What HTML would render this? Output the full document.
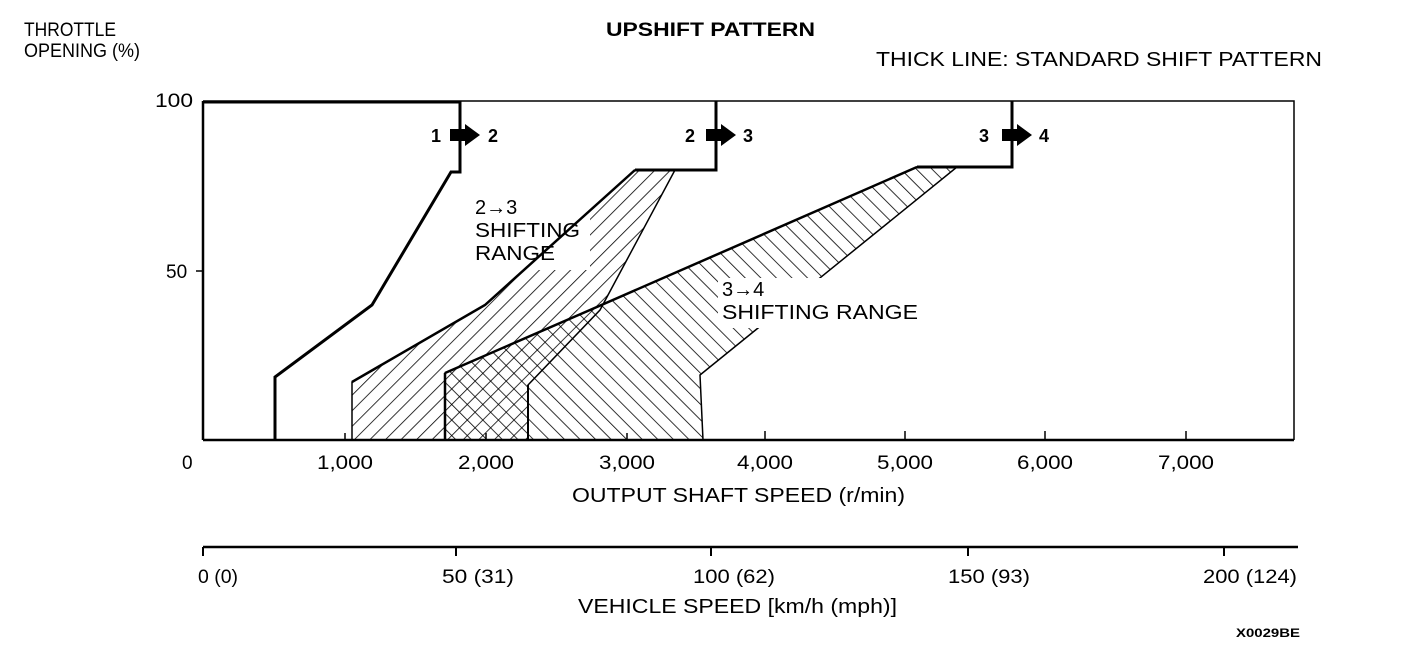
<!DOCTYPE html>
<html><head><meta charset="utf-8"><style>
html,body{margin:0;padding:0;background:#fff;}
svg{display:block;}
text{font-family:"Liberation Sans",Arial,sans-serif;fill:#000;}
</style></head><body>
<svg width="1408" height="648" viewBox="0 0 1408 648" xmlns="http://www.w3.org/2000/svg">
<defs>
<pattern id="fw" patternUnits="userSpaceOnUse" width="11" height="11" patternTransform="rotate(45)">
<line x1="0" y1="0" x2="0" y2="11" stroke="#000" stroke-width="1.6"/>
</pattern>
<pattern id="bw" patternUnits="userSpaceOnUse" width="11" height="11" patternTransform="rotate(-45)">
<line x1="0" y1="0" x2="0" y2="11" stroke="#000" stroke-width="1.6"/>
</pattern>
</defs>
<text x="24" y="36" font-size="19" textLength="92" lengthAdjust="spacingAndGlyphs">THROTTLE</text>
<text x="24" y="57" font-size="19" textLength="116" lengthAdjust="spacingAndGlyphs">OPENING (%)</text>
<text x="606" y="36" font-size="19" font-weight="bold" textLength="209" lengthAdjust="spacingAndGlyphs">UPSHIFT PATTERN</text>
<text x="876" y="66" font-size="20" textLength="446" lengthAdjust="spacingAndGlyphs">THICK LINE: STANDARD SHIFT PATTERN</text>

<!-- hatched regions -->
<polygon points="352,440 352,382 485,305 635,170 675,170 600,310 528,385 528,440" fill="url(#fw)" stroke="#000" stroke-width="1.5"/>
<polygon points="445,440 445,373 590,310 917,167 957,167 700,375 703,440" fill="url(#bw)" stroke="#000" stroke-width="1.5"/>
<rect x="472" y="190" width="118" height="80" fill="#fff"/>
<rect x="718" y="278" width="210" height="50" fill="#fff"/>
<line x1="445" y1="373" x2="445" y2="440" stroke="#000" stroke-width="2.5"/>
<line x1="528" y1="385" x2="528" y2="440" stroke="#000" stroke-width="2"/>
<polyline points="352,382 485,305 635,170" fill="none" stroke="#000" stroke-width="2.5"/>
<polyline points="445,373 590,310 917,167" fill="none" stroke="#000" stroke-width="2.5"/>

<!-- axes frame -->
<polyline points="203,101 1294,101 1294,440" fill="none" stroke="#000" stroke-width="1.5"/>
<line x1="203" y1="101" x2="203" y2="440" stroke="#000" stroke-width="2.5"/>
<line x1="203" y1="440" x2="1294" y2="440" stroke="#000" stroke-width="2.5"/>
<line x1="203" y1="102" x2="460" y2="102" stroke="#000" stroke-width="3"/>
<line x1="196" y1="271" x2="203" y2="271" stroke="#000" stroke-width="1.5"/>
<g stroke="#000" stroke-width="1.5">
<line x1="345" y1="440" x2="345" y2="433"/><line x1="486" y1="440" x2="486" y2="433"/>
<line x1="627" y1="440" x2="627" y2="433"/><line x1="765" y1="440" x2="765" y2="431"/>
<line x1="905" y1="440" x2="905" y2="431"/><line x1="1045" y1="440" x2="1045" y2="431"/>
<line x1="1186" y1="440" x2="1186" y2="431"/>
</g>

<!-- standard shift lines -->
<polyline points="460,101 460,172 451,172 372,305 275,377 275,440" fill="none" stroke="#000" stroke-width="3"/>
<polyline points="635,170 716,170 716,101" fill="none" stroke="#000" stroke-width="3"/>
<polyline points="917,167 1012,167 1012,101" fill="none" stroke="#000" stroke-width="3"/>

<!-- arrows -->
<g fill="#000">
<polygon points="450,129 465,129 465,124 480,135 465,146 465,141 450,141"/>
<polygon points="706,129 721,129 721,124 736,135 721,146 721,141 706,141"/>
<polygon points="1002,129 1017,129 1017,124 1032,135 1017,146 1017,141 1002,141"/>
</g>
<g font-size="18" font-weight="bold">
<text x="431" y="142">1</text><text x="488" y="142">2</text>
<text x="685" y="142">2</text><text x="743" y="142">3</text>
<text x="979" y="142">3</text><text x="1039" y="142">4</text>
</g>
<g font-size="20">
<text x="475" y="214">2→3</text>
<text x="475" y="237" textLength="105" lengthAdjust="spacingAndGlyphs">SHIFTING</text>
<text x="475" y="260" textLength="80" lengthAdjust="spacingAndGlyphs">RANGE</text>
<text x="722" y="296">3→4</text>
<text x="722" y="319" textLength="196" lengthAdjust="spacingAndGlyphs">SHIFTING RANGE</text>
</g>

<g font-size="19">
<text x="155" y="107" textLength="38" lengthAdjust="spacingAndGlyphs">100</text>
<text x="166" y="278">50</text>
<text x="182" y="469">0</text>
<text x="345" y="469" text-anchor="middle" textLength="56" lengthAdjust="spacingAndGlyphs">1,000</text>
<text x="486" y="469" text-anchor="middle" textLength="56" lengthAdjust="spacingAndGlyphs">2,000</text>
<text x="627" y="469" text-anchor="middle" textLength="56" lengthAdjust="spacingAndGlyphs">3,000</text>
<text x="765" y="469" text-anchor="middle" textLength="56" lengthAdjust="spacingAndGlyphs">4,000</text>
<text x="905" y="469" text-anchor="middle" textLength="56" lengthAdjust="spacingAndGlyphs">5,000</text>
<text x="1045" y="469" text-anchor="middle" textLength="56" lengthAdjust="spacingAndGlyphs">6,000</text>
<text x="1186" y="469" text-anchor="middle" textLength="56" lengthAdjust="spacingAndGlyphs">7,000</text>
<text x="572" y="502" font-size="20" textLength="333" lengthAdjust="spacingAndGlyphs">OUTPUT SHAFT SPEED (r/min)</text>
</g>

<!-- vehicle speed axis -->
<line x1="203" y1="547" x2="1298" y2="547" stroke="#000" stroke-width="2.5"/>
<g stroke="#000" stroke-width="2">
<line x1="203" y1="547" x2="203" y2="556"/><line x1="456" y1="547" x2="456" y2="556"/>
<line x1="711" y1="547" x2="711" y2="556"/><line x1="968" y1="547" x2="968" y2="556"/>
<line x1="1224" y1="547" x2="1224" y2="556"/>
</g>
<g font-size="19">
<text x="198" y="583" textLength="40" lengthAdjust="spacingAndGlyphs">0 (0)</text>
<text x="442" y="583" textLength="72" lengthAdjust="spacingAndGlyphs">50 (31)</text>
<text x="693" y="583" textLength="82" lengthAdjust="spacingAndGlyphs">100 (62)</text>
<text x="948" y="583" textLength="82" lengthAdjust="spacingAndGlyphs">150 (93)</text>
<text x="1203" y="583" textLength="94" lengthAdjust="spacingAndGlyphs">200 (124)</text>
<text x="578" y="613" font-size="20" textLength="319" lengthAdjust="spacingAndGlyphs">VEHICLE SPEED [km/h (mph)]</text>
</g>
<text x="1300" y="637" font-size="12" font-weight="bold" text-anchor="end" textLength="64" lengthAdjust="spacingAndGlyphs">X0029BE</text>
</svg>
</body></html>
